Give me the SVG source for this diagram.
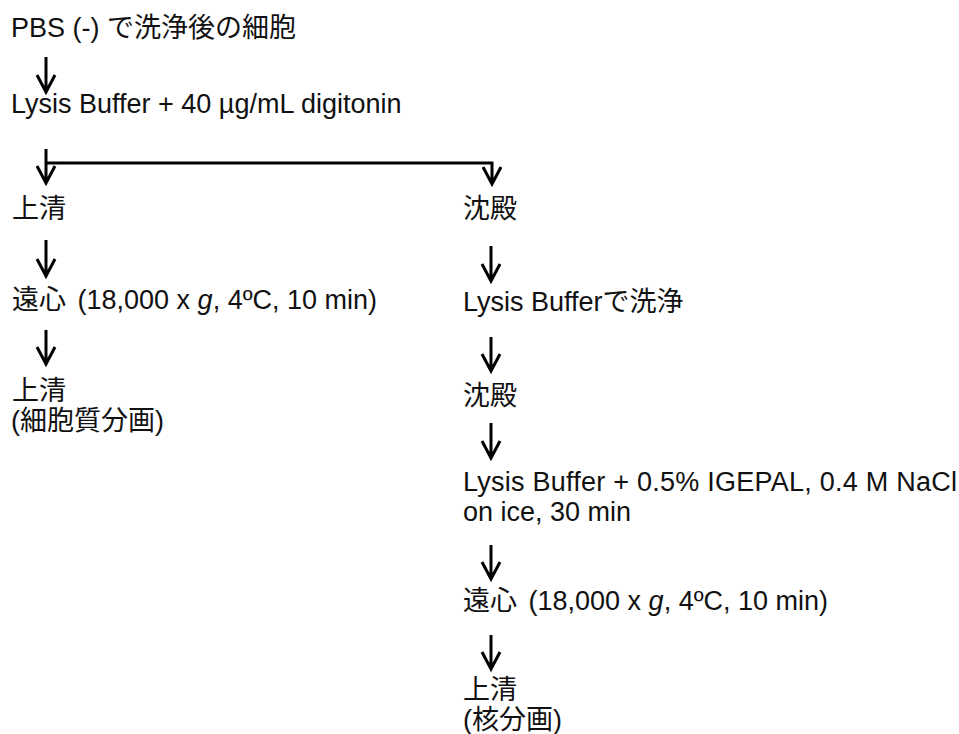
<svg xmlns="http://www.w3.org/2000/svg" width="959" height="734" viewBox="0 0 959 734">
<style>
text{font-family:"Liberation Sans","Noto Sans CJK JP",sans-serif;font-size:27px;fill:#111}
.c{fill:none;stroke:#000;stroke-width:3;stroke-linecap:butt;stroke-linejoin:miter}
</style>
<rect width="959" height="734" fill="#fff"/>
<g id="connectors">
<path class="c" d="M46 57V92M37 75L46 92L55 75"/>
<path class="c" d="M46 149V183M37 166L46 183L55 166"/>
<path class="c" d="M47 163H492V184M483 167L492 184L501 167"/>
<path class="c" d="M46 240V276M37 259L46 276L55 259"/>
<path class="c" d="M46 330V364M37 347L46 364L55 347"/>
<path class="c" d="M491 246V281M482 264L491 281L500 264"/>
<path class="c" d="M491 337V371M482 354L491 371L500 354"/>
<path class="c" d="M491 423V458M482 441L491 458L500 441"/>
<path class="c" d="M491 545V579M482 562L491 579L500 562"/>
<path class="c" d="M491 635V669M482 652L491 669L500 652"/>
</g>
<g id="n1"><text x="11" y="37">PBS (-) で洗浄後の細胞</text></g>
<g id="n2"><text x="11" y="113">Lysis Buffer + 40 µg/mL digitonin</text></g>
<g id="n3"><text x="12" y="218">上清</text></g>
<g id="n4"><text x="12" y="309">遠心 <tspan dx="4">(18,000 x </tspan><tspan font-style="italic">g</tspan>, 4ºC, 10 min)</text></g>
<g id="n5"><text x="12" y="400">上清</text><text x="11" y="430">(細胞質分画)</text></g>
<g id="n6"><text x="463" y="218">沈殿</text></g>
<g id="n7"><text x="463" y="311">Lysis Bufferで洗浄</text></g>
<g id="n8"><text x="463" y="405">沈殿</text></g>
<g id="n9"><text x="463" y="491" textLength="494" lengthAdjust="spacing">Lysis Buffer + 0.5% IGEPAL, 0.4 M NaCl</text><text x="463" y="521">on ice, 30 min</text></g>
<g id="n10"><text x="463" y="610">遠心 <tspan dx="4">(18,000 x </tspan><tspan font-style="italic">g</tspan>, 4ºC, 10 min)</text></g>
<g id="n11"><text x="463" y="699">上清</text><text x="463" y="729">(核分画)</text></g>
</svg>
